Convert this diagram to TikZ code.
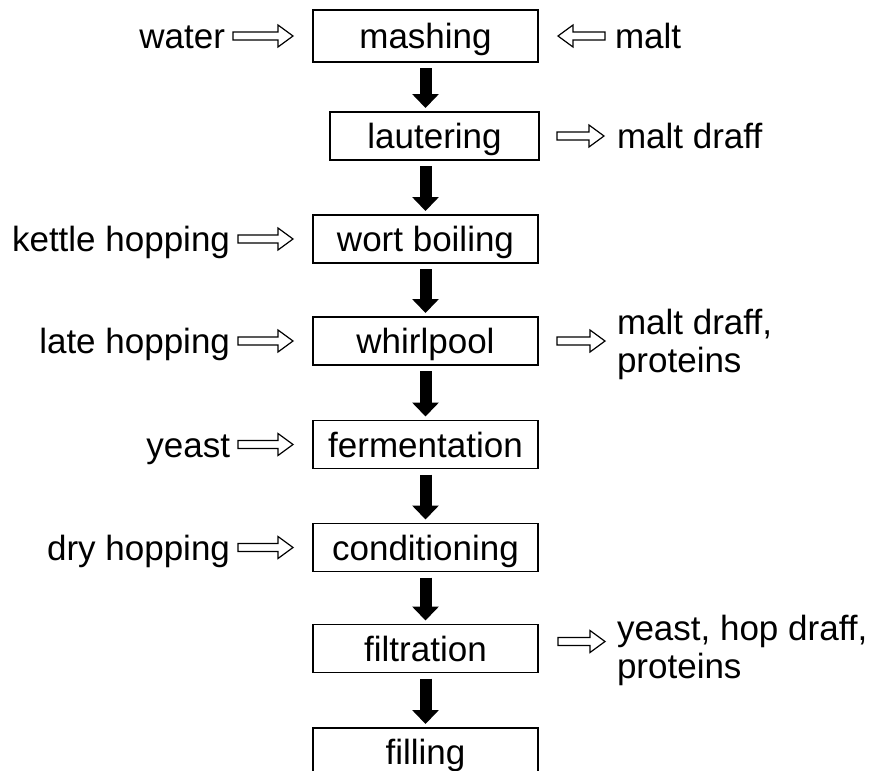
\documentclass[tikz,border=0pt]{standalone}
\usepackage{fontspec}
\setmainfont{Liberation Sans}
\usetikzlibrary{arrows.meta,calc}

\tikzset{
  txt/.style={font=\fontsize{35}{38}\selectfont, inner sep=0pt, outer sep=0pt},
  stepbox/.style={txt, draw=black, line width=1.4pt, minimum height=48pt,
    text height=25pt, text depth=0pt},
  lbl/.style={txt, text height=25pt, text depth=0pt},
  lbltwo/.style={txt, align=left},
  % solid black flow arrow between process steps
  flow/.style={line width=12pt, -{Triangle[width=26pt,length=14pt]},
    shorten <=6pt, shorten >=4pt},
  % outlined block arrow; #1 = gap after the start point, #2 = gap before the end point
  hollow/.style n args={2}{draw=black, line width=1.2pt, line join=miter,
    to path={let \p1=(\tikztostart), \p2=(\tikztotarget),
      \n1={sign(\x2-\x1)} in
      (\x1+\n1*#1, \y1+4pt) -- (\x2-\n1*#2-\n1*15pt, \y1+4pt)
      -- (\x2-\n1*#2-\n1*15pt, \y1+11pt) -- (\x2-\n1*#2, \y1)
      -- (\x2-\n1*#2-\n1*15pt, \y1-11pt) -- (\x2-\n1*#2-\n1*15pt, \y1-4pt)
      -- (\x1+\n1*#1, \y1-4pt) -- cycle}},
}

\begin{document}
\begin{tikzpicture}[x=1pt, y=-1pt]
\useasboundingbox (0,0) rectangle (871,771);
\clip (0,0) rectangle (871,771);

% process steps
\node[stepbox, minimum width=225pt, minimum height=52pt] (mash)  at (425.5,36)    {mashing};
\node[stepbox, minimum width=209pt] (laut)  at (434.5,136)   {lautering};
\node[stepbox, minimum width=225pt] (wort)  at (425.5,239)   {wort boiling};
\node[stepbox, minimum width=225pt] (whirl) at (425.5,341)   {whirlpool};
\node[stepbox, minimum width=225pt] (ferm)  at (425.5,444.5) {fermentation};
\node[stepbox, minimum width=225pt] (cond)  at (425.5,547.5) {conditioning};
\node[stepbox, minimum width=225pt] (filt)  at (425.5,648.5) {filtration};
\node[stepbox, minimum width=225pt] (fill)  at (425.5,752)   {filling};

% inputs
\node[lbl, anchor=east] (water)  at (225,36)    {water};
\node[lbl, anchor=west] (malt)   at (615,36)    {malt};
\node[lbl, anchor=east] (kettle) at (230,239)   {kettle hopping};
\node[lbl, anchor=east] (late)   at (230,341)   {late hopping};
\node[lbl, anchor=east] (yeast)  at (230,444.5) {yeast};
\node[lbl, anchor=east] (dry)    at (230,547.5) {dry hopping};

% outputs
\node[lbl, anchor=west] (draff)   at (617,136) {malt draff};
\node[lbltwo, anchor=west] (wout) at (617,344) {malt draff,\\proteins};
\node[lbltwo, anchor=west] (fout) at (617,650) {yeast, hop draff,\\proteins};

% main flow
\draw[flow] (mash.south) -- (mash.south |- laut.north);
\draw[flow] (laut.south -| mash.south) -- (wort.north);
\draw[flow] (wort) -- (whirl);
\draw[flow] (whirl) -- (ferm);
\draw[flow] (ferm) -- (cond);
\draw[flow] (cond) -- (filt);
\draw[flow] (filt) -- (fill);

% additions and by-products
\draw[hollow={8pt}{20pt}] (water.east) to (mash.west);
\draw[hollow={10pt}{20pt}] (malt.west) to (mash.east);
\draw[hollow={8pt}{20pt}] (kettle.east) to (wort.west);
\draw[hollow={8pt}{20pt}] (late.east) to (whirl.west);
\draw[hollow={8pt}{20pt}] (yeast.east) to (ferm.west);
\draw[hollow={8pt}{20pt}] (dry.east) to (cond.west);
\draw[hollow={18pt}{13pt}] (laut.east) to (draff.west);
\draw[hollow={19pt}{12pt}] (whirl.east) to (wout.west);
\draw[hollow={20pt}{12pt}] ([yshift=7pt]filt.east) to (fout.west);
\end{tikzpicture}
\end{document}
